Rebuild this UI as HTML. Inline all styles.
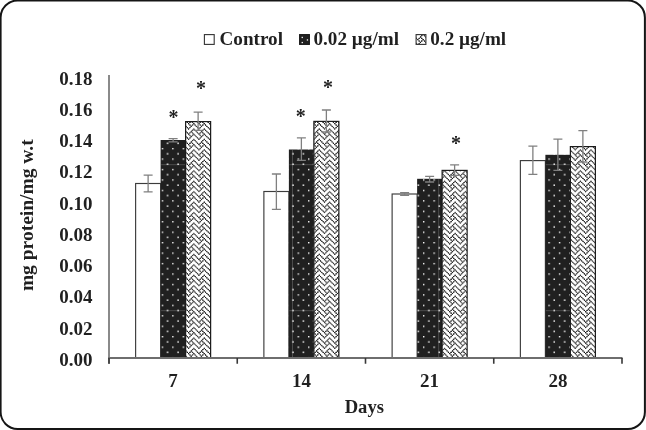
<!DOCTYPE html>
<html><head><meta charset="utf-8"><style>
html,body{margin:0;padding:0;background:#fff;}
svg{display:block;filter:grayscale(1);}
text{font-family:"Liberation Serif",serif;font-weight:bold;fill:#231f20;}
</style></head><body>
<svg width="646" height="430" viewBox="0 0 646 430">
<defs>
<pattern id="dots" patternUnits="userSpaceOnUse" x="161.747" y="147.947" width="10.45" height="10.45">
<rect width="10.45" height="10.45" fill="#231f20"/>
<rect x="-0.067" y="-0.067" width="1.44" height="1.44" fill="#fff"/>
<rect x="5.158" y="5.158" width="1.44" height="1.44" fill="#fff"/>
</pattern>
<filter id="ct" x="0" y="0" width="1" height="1"><feComponentTransfer><feFuncR type="table" tableValues="0 0.06 0.36 0.8 1 1"/><feFuncG type="table" tableValues="0 0.06 0.36 0.8 1 1"/><feFuncB type="table" tableValues="0 0.06 0.36 0.8 1 1"/></feComponentTransfer></filter>
<pattern id="weave" patternUnits="userSpaceOnUse" x="323.750" y="227.550" width="10.45" height="10.45">
<rect width="10.45" height="10.45" fill="#fff"/>
<g fill="#231f20"><rect x="0.000" y="0.000" width="1.306" height="1.306"/><rect x="5.225" y="0.000" width="1.306" height="1.306"/><rect x="1.306" y="1.306" width="1.306" height="1.306"/><rect x="3.919" y="1.306" width="1.306" height="1.306"/><rect x="6.531" y="1.306" width="1.306" height="1.306"/><rect x="2.612" y="2.612" width="1.306" height="1.306"/><rect x="7.837" y="2.612" width="1.306" height="1.306"/><rect x="1.306" y="3.919" width="1.306" height="1.306"/><rect x="9.144" y="3.919" width="1.306" height="1.306"/><rect x="0.000" y="5.225" width="1.306" height="1.306"/><rect x="5.225" y="5.225" width="1.306" height="1.306"/><rect x="3.919" y="6.531" width="1.306" height="1.306"/><rect x="6.531" y="6.531" width="1.306" height="1.306"/><rect x="2.612" y="7.837" width="1.306" height="1.306"/><rect x="7.837" y="7.837" width="1.306" height="1.306"/><rect x="1.306" y="9.144" width="1.306" height="1.306"/><rect x="3.919" y="9.144" width="1.306" height="1.306"/><rect x="9.144" y="9.144" width="1.306" height="1.306"/></g>
</pattern>
<pattern id="weaveL" patternUnits="userSpaceOnUse" x="417.23" y="39.05" width="10.45" height="10.45">
<rect width="10.45" height="10.45" fill="#fff"/>
<g fill="#231f20"><rect x="0.000" y="0.000" width="1.306" height="1.306"/><rect x="5.225" y="0.000" width="1.306" height="1.306"/><rect x="1.306" y="1.306" width="1.306" height="1.306"/><rect x="3.919" y="1.306" width="1.306" height="1.306"/><rect x="6.531" y="1.306" width="1.306" height="1.306"/><rect x="2.612" y="2.612" width="1.306" height="1.306"/><rect x="7.837" y="2.612" width="1.306" height="1.306"/><rect x="1.306" y="3.919" width="1.306" height="1.306"/><rect x="9.144" y="3.919" width="1.306" height="1.306"/><rect x="0.000" y="5.225" width="1.306" height="1.306"/><rect x="5.225" y="5.225" width="1.306" height="1.306"/><rect x="3.919" y="6.531" width="1.306" height="1.306"/><rect x="6.531" y="6.531" width="1.306" height="1.306"/><rect x="2.612" y="7.837" width="1.306" height="1.306"/><rect x="7.837" y="7.837" width="1.306" height="1.306"/><rect x="1.306" y="9.144" width="1.306" height="1.306"/><rect x="3.919" y="9.144" width="1.306" height="1.306"/><rect x="9.144" y="9.144" width="1.306" height="1.306"/></g>
</pattern>
</defs>
<rect x="0" y="0" width="646" height="430" fill="#fff"/>
<rect x="0.6" y="0.5" width="644.3" height="428.4" rx="17" ry="17" fill="none" stroke="#151515" stroke-width="2"/>
<g font-size="19.15">
<rect x="204.4" y="34.6" width="9.8" height="9.8" fill="#fff" stroke="#333" stroke-width="1.1"/>
<text x="219.5" y="44.6">Control</text>
<rect x="299.6" y="34.6" width="9.8" height="9.8" fill="#231f20" stroke="#1a1a1a" stroke-width="1.1"/>
<g fill="#fff"><rect x="301.6" y="36.8" width="1.3" height="1.3"/><rect x="301.6" y="41.9" width="1.3" height="1.3"/><rect x="306.8" y="39.3" width="1.3" height="1.3"/></g>
<text x="313.5" y="44.6">0.02 µg/ml</text>
<rect x="416.1" y="34.6" width="9.8" height="9.8" fill="url(#weaveL)" filter="url(#ct)"/><rect x="416.1" y="34.6" width="9.8" height="9.8" fill="none" stroke="#333" stroke-width="1.1"/>
<text x="430.3" y="44.6">0.2 µg/ml</text>
</g>
<rect x="135.62" y="183.50" width="25.00" height="174.50" fill="#fff" stroke="#3c3c3c" stroke-width="1.15"/><rect x="160.62" y="140.00" width="25.00" height="218.00" fill="url(#dots)"/><rect x="185.62" y="121.60" width="25.00" height="236.40" fill="url(#weave)" filter="url(#ct)"/><rect x="185.62" y="121.60" width="25.00" height="236.40" fill="none" stroke="#1a1a1a" stroke-width="1.2"/><rect x="263.88" y="191.50" width="25.00" height="166.50" fill="#fff" stroke="#3c3c3c" stroke-width="1.15"/><rect x="288.88" y="149.50" width="25.00" height="208.50" fill="url(#dots)"/><rect x="313.88" y="121.40" width="25.00" height="236.60" fill="url(#weave)" filter="url(#ct)"/><rect x="313.88" y="121.40" width="25.00" height="236.60" fill="none" stroke="#1a1a1a" stroke-width="1.2"/><rect x="392.12" y="194.00" width="25.00" height="164.00" fill="#fff" stroke="#3c3c3c" stroke-width="1.15"/><rect x="417.12" y="178.80" width="25.00" height="179.20" fill="url(#dots)"/><rect x="442.12" y="170.40" width="25.00" height="187.60" fill="url(#weave)" filter="url(#ct)"/><rect x="442.12" y="170.40" width="25.00" height="187.60" fill="none" stroke="#1a1a1a" stroke-width="1.2"/><rect x="520.38" y="160.60" width="25.00" height="197.40" fill="#fff" stroke="#3c3c3c" stroke-width="1.15"/><rect x="545.38" y="154.80" width="25.00" height="203.20" fill="url(#dots)"/><rect x="570.38" y="146.60" width="25.00" height="211.40" fill="url(#weave)" filter="url(#ct)"/><rect x="570.38" y="146.60" width="25.00" height="211.40" fill="none" stroke="#1a1a1a" stroke-width="1.2"/>
<path d="M161.12 164.7H185.12M161.12 310.7H185.12M289.38 164.7H313.38M289.38 310.7H313.38M292.5 150.00V357.50M417.62 310.7H441.62M438.7 179.30V357.50M545.88 164.7H569.88M545.88 310.7H569.88" stroke="#fff" stroke-opacity="0.2" stroke-width="1" fill="none"/>
<g stroke="#808080" stroke-width="1.3" fill="none"><path d="M148.12 175.20V191.80M143.62 175.20H152.62M143.62 191.80H152.62"/><path d="M173.12 138.60V141.80M168.62 138.60H177.62M168.62 141.80H177.62"/><path d="M198.12 112.10V130.30M193.62 112.10H202.62M193.62 130.30H202.62"/><path d="M276.38 174.00V209.30M271.88 174.00H280.88M271.88 209.30H280.88"/><path d="M301.38 137.80V160.30M296.88 137.80H305.88M296.88 160.30H305.88"/><path d="M326.38 110.00V132.00M321.88 110.00H330.88M321.88 132.00H330.88"/><path d="M404.62 192.60V195.40M400.12 192.60H409.12M400.12 195.40H409.12"/><path d="M429.62 176.30V182.00M425.12 176.30H434.12M425.12 182.00H434.12"/><path d="M454.62 164.80V175.40M450.12 164.80H459.12M450.12 175.40H459.12"/><path d="M532.88 146.10V174.40M528.38 146.10H537.38M528.38 174.40H537.38"/><path d="M557.88 139.20V170.40M553.38 139.20H562.38M553.38 170.40H562.38"/><path d="M582.88 130.60V162.00M578.38 130.60H587.38M578.38 162.00H587.38"/></g>
<path d="M109 75V363.8" stroke="#8a8a8a" stroke-width="2" fill="none"/>
<path d="M108 358H622.5" stroke="#6e6e6e" stroke-width="1.8" fill="none"/>
<path d="M109.00 358V363.8M237.25 358V363.8M365.50 358V363.8M493.75 358V363.8M622.00 358V363.8" stroke="#383838" stroke-width="1.6" fill="none"/>
<g font-size="19">
<text x="92.5" y="365.80" text-anchor="end">0.00</text><text x="92.5" y="334.56" text-anchor="end">0.02</text><text x="92.5" y="303.32" text-anchor="end">0.04</text><text x="92.5" y="272.08" text-anchor="end">0.06</text><text x="92.5" y="240.84" text-anchor="end">0.08</text><text x="92.5" y="209.60" text-anchor="end">0.10</text><text x="92.5" y="178.36" text-anchor="end">0.12</text><text x="92.5" y="147.12" text-anchor="end">0.14</text><text x="92.5" y="115.88" text-anchor="end">0.16</text><text x="92.5" y="84.64" text-anchor="end">0.18</text>
<text x="173.12" y="386.6" text-anchor="middle">7</text><text x="301.38" y="386.6" text-anchor="middle">14</text><text x="429.62" y="386.6" text-anchor="middle">21</text><text x="557.88" y="386.6" text-anchor="middle">28</text>
<text x="364.3" y="413" text-anchor="middle" font-size="18.6">Days</text>
<text transform="translate(33.3,215.2) rotate(-90)" text-anchor="middle" font-size="19.5">mg protein/mg w.t</text>
<text x="173.5" y="124.1" text-anchor="middle" font-size="20">*</text><text x="201" y="95.1" text-anchor="middle" font-size="20">*</text><text x="300.8" y="123.1" text-anchor="middle" font-size="20">*</text><text x="328" y="93.8" text-anchor="middle" font-size="20">*</text><text x="456" y="149.8" text-anchor="middle" font-size="20">*</text>
</g>
</svg>
</body></html>
